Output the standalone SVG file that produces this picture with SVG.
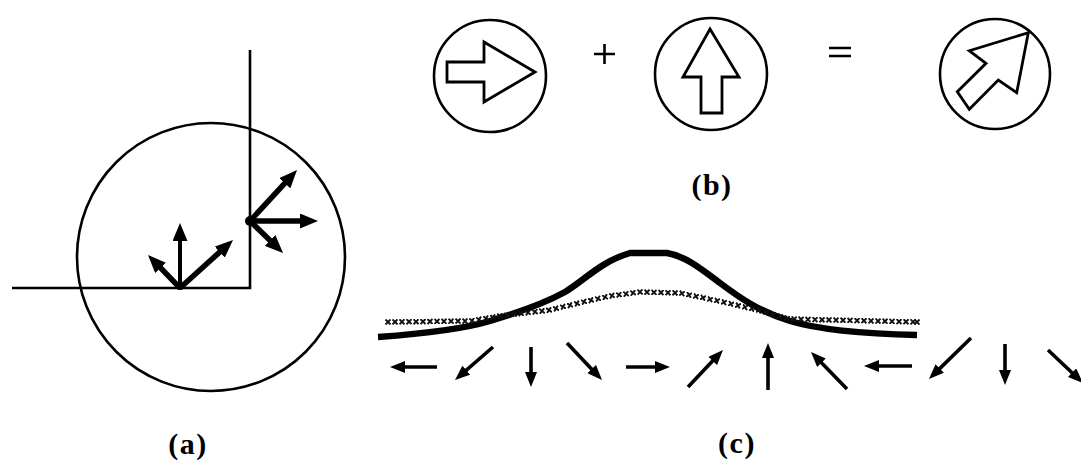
<svg xmlns="http://www.w3.org/2000/svg" width="1081" height="463" viewBox="0 0 1081 463">
<style>
.thin{fill:none;stroke:#000;stroke-width:2.6}
.big{fill:#fff;stroke:#000;stroke-width:2.8;stroke-linejoin:miter}
.va{fill:none;stroke:#000;stroke-width:5.5}
.vc{fill:none;stroke:#000;stroke-width:3.6}
.lbl{font-family:"Liberation Serif",serif;font-weight:bold;font-size:30px;text-anchor:middle;fill:#000;letter-spacing:1.5px}
</style>
<defs>
<marker id="ha" markerUnits="userSpaceOnUse" markerWidth="18" markerHeight="15" refX="10" refY="7.5" orient="auto"><path d="M0,0 L18,7.5 L0,15 z" fill="#000"/></marker>
<marker id="hc" markerUnits="userSpaceOnUse" markerWidth="15" markerHeight="12" refX="8" refY="6" orient="auto"><path d="M0,0 L15,6 L0,12 z" fill="#000"/></marker>
<marker id="xm" markerUnits="userSpaceOnUse" markerWidth="6" markerHeight="6" refX="3" refY="3" orient="auto"><path d="M0.5,0.5 L5.5,5.5 M5.5,0.5 L0.5,5.5" stroke="#111" stroke-width="1.9" fill="none"/></marker>
</defs>

<g id="panel-a">
  <line class="thin" x1="250" y1="50" x2="250" y2="289"/>
  <line class="thin" x1="12" y1="288" x2="251" y2="288"/>
  <circle class="thin" cx="211" cy="257" r="134"/>
  <g id="a-arrows-1">
    <line class="va" x1="180" y1="288" x2="180" y2="231" marker-end="url(#ha)" style="stroke-width:4"/>
    <line class="va" x1="180" y1="288" x2="227.1" y2="245.4" marker-end="url(#ha)"/>
    <line class="va" x1="180" y1="288" x2="153.6" y2="260.7" marker-end="url(#ha)"/>
    <circle cx="180" cy="286" r="4" fill="#000"/>
  </g>
  <g id="a-arrows-2">
    <line class="va" x1="250" y1="221" x2="291.6" y2="175.9" marker-end="url(#ha)"/>
    <line class="va" x1="250" y1="221" x2="310" y2="221" marker-end="url(#ha)"/>
    <line class="va" x1="250" y1="221" x2="277.3" y2="247.4" marker-end="url(#ha)"/>
    <circle cx="250" cy="221" r="5" fill="#000"/>
  </g>
  <text class="lbl" x="188" y="454">(a)</text>
</g>

<g id="panel-b">
  <g id="b-right">
    <circle class="thin" cx="490" cy="76" r="56"/>
    <path class="big" d="M447,62 L484,62 L484,42 L535,72 L484,102 L484,82 L447,82 Z"/>
  </g>
  <g id="b-plus"><path class="thin" d="M594,54 H615 M604.5,44 V64"/></g>
  <g id="b-up">
    <circle class="thin" cx="711" cy="74" r="56"/>
    <path class="big" d="M710,29 L739,77 L722,77 L722,113 L701,113 L701,77 L683,77 Z"/>
  </g>
  <g id="b-equals"><path class="thin" d="M829,48 H851 M829,56 H851"/></g>
  <g id="b-diag">
    <circle class="thin" cx="995" cy="74" r="55"/>
    <path class="big" d="M1028.3,32.7 L1016.7,92.7 L998.3,80 L969.3,109.3 L957.3,91.7 L986,63.3 L969.3,50.7 Z"/>
  </g>
  <text class="lbl" x="712" y="195">(b)</text>
</g>

<g id="panel-c">
  <path id="c-curve" d="M378,337 C420,334 460,330 490,321 C520,312 545,303 565,292 C585,280 600,262 630,253 L667,253 C685,256 700,268 720,283 C740,298 760,312 790,321 C820,330 870,334 917,335" fill="none" stroke="#000" stroke-width="6.5" stroke-linecap="butt"/>
  <polyline id="c-xline" fill="none" stroke="none" marker-start="url(#xm)" marker-mid="url(#xm)" marker-end="url(#xm)" points="388,322 395,321.9 402,321.8 409,321.7 416,321.7 423,321.6 430,321.5 437,321.4 444,321.3 451,321.2 458,321.1 465,321.1 472,320.7 479,319.5 486,318.3 493,317.2 500,316 507,315.2 514,314.3 521,313.5 528,312.6 535,311.8 542,311 549,310.1 556,308.5 563,306.8 570,305.2 577,303.5 584,301.8 591,300.2 598,298.7 605,297.1 612,295.7 619,294.8 626,293.9 633,292.9 640,292 647,292.2 654,292.4 661,292.5 668,292.7 675,292.9 682,293.4 689,294.9 696,296.3 703,297.8 710,299.3 717,300.7 724,302.2 731,303.9 738,305.5 745,307.2 752,308.8 759,310.5 766,312.5 773,314.4 780,316.3 787,318.2 794,319.1 801,319.3 808,319.4 815,319.6 822,319.8 829,319.9 836,320.1 843,320.3 850,320.4 857,320.6 864,320.7 871,320.9 878,321.1 885,321.2 892,321.4 899,321.6 906,321.7 913,321.9 917,322"/>
  <g id="c-arrows">
    <line class="vc" x1="437" y1="367" x2="397" y2="367" marker-end="url(#hc)"/>
    <line class="vc" x1="493" y1="347" x2="460.3" y2="375.4" marker-end="url(#hc)"/>
    <line class="vc" x1="531" y1="347" x2="531" y2="380" marker-end="url(#hc)"/>
    <line class="vc" x1="567" y1="343" x2="597.2" y2="374.9" marker-end="url(#hc)"/>
    <line class="vc" x1="626" y1="367" x2="663" y2="367" marker-end="url(#hc)"/>
    <line class="vc" x1="688" y1="387" x2="718.2" y2="355.1" marker-end="url(#hc)"/>
    <line class="vc" x1="768" y1="390" x2="768" y2="350" marker-end="url(#hc)"/>
    <line class="vc" x1="847" y1="389" x2="815.9" y2="357" marker-end="url(#hc)"/>
    <line class="vc" x1="912" y1="366" x2="871" y2="366" marker-end="url(#hc)"/>
    <line class="vc" x1="971" y1="338" x2="934" y2="374.1" marker-end="url(#hc)"/>
    <line class="vc" x1="1005" y1="344" x2="1005" y2="378" marker-end="url(#hc)"/>
    <line class="vc" x1="1048" y1="350" x2="1077.9" y2="378.2" marker-end="url(#hc)"/>
  </g>
  <text class="lbl" x="737" y="453">(c)</text>
</g>
</svg>
